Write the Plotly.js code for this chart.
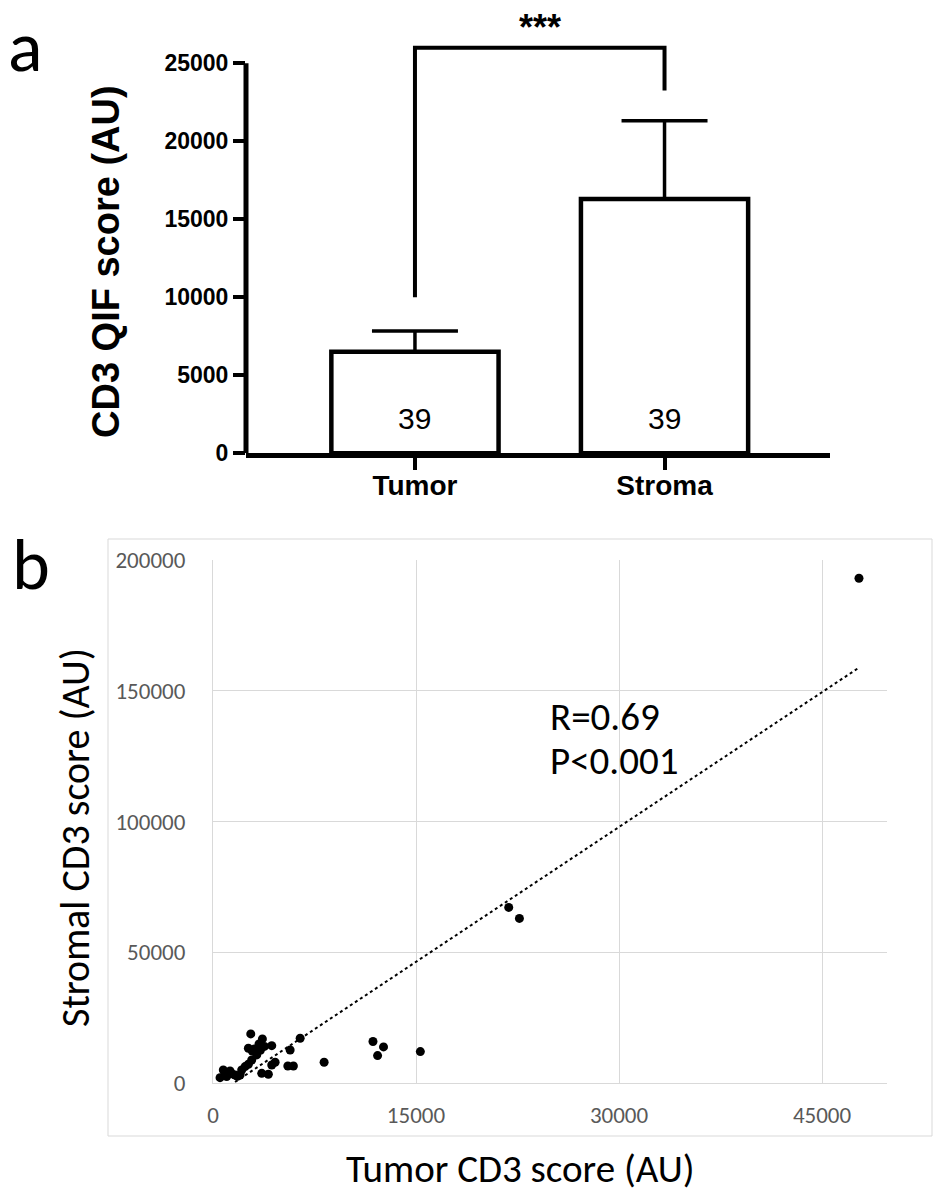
<!DOCTYPE html>
<html>
<head>
<meta charset="utf-8">
<script src="https://cdn.plot.ly/plotly-3.0.1.min.js"></script>
<style>
html,body{margin:0;padding:0;background:#ffffff;}
#chart{width:934px;height:1194px;}
</style>
</head>
<body>
<div id="chart"></div>
<script>
// ---------- Panel a data ----------
const barCategories = ['Tumor', 'Stroma'];
const barMeans = [6510, 16300];
const barErrorUpper = [1330, 5020];
const barCounts = ['39', '39'];
const bracketX = ['Tumor', 'Tumor', 'Stroma', 'Stroma'];
const bracketY = [10000, 26000, 26000, 23250];
const bracketLabel = '***';
const barYTicks = [0, 5000, 10000, 15000, 20000, 25000];
const barYTitle = 'CD3 QIF score (AU)';

// ---------- Panel b data ----------
const tumorScores = [47730, 21850, 22640, 15320, 12160, 12600, 11820, 8210, 6440, 5700,
                     5530, 5940, 4590, 4340, 4340, 3600, 4090, 2790, 3650, 3400,
                     2614, 3060, 3500, 3230, 2860, 2614, 2370, 760, 1260, 1630,
                     520, 1010, 2000, 2120, 3800, 2900, 1400, 900, 1800];
const stromaScores = [193000, 67160, 62950, 12000, 10470, 13790, 15860, 7920, 17120, 12640,
                      6510, 6510, 7920, 6900, 14290, 3700, 3330, 18770, 16860, 14940,
                      13290, 13030, 12500, 10730, 8810, 7160, 6280, 4980, 4600, 3070,
                      2030, 2450, 3070, 4980, 14000, 12200, 3500, 3800, 2600];
const scatterXTicks = [0, 15000, 30000, 45000];
const scatterYTicks = [0, 50000, 100000, 150000, 200000];
const scatterXTitle = 'Tumor CD3 score (AU)';
const scatterYTitle = 'Stromal CD3 score (AU)';
const statsLines = ['R=0.69', 'P&lt;0.001'];

// least-squares trendline computed from the data
function linFit(xs, ys) {
  const n = xs.length;
  const mx = xs.reduce((a, b) => a + b, 0) / n;
  const my = ys.reduce((a, b) => a + b, 0) / n;
  let sxy = 0, sxx = 0;
  for (let i = 0; i < n; i++) { sxy += (xs[i] - mx) * (ys[i] - my); sxx += (xs[i] - mx) ** 2; }
  const m = sxy / sxx;
  return { m: m, b: my - m * mx };
}
const fit = linFit(tumorScores, stromaScores);
const trendX = [Math.min(...tumorScores), Math.max(...tumorScores)];
const trendY = trendX.map(v => fit.m * v + fit.b);

const W = 934, H = 1194;
const px = v => v / W;
const py = v => 1 - v / H;

const calibri = 'Carlito, Calibri, Lato, "Open Sans", sans-serif';
const arial = '"Liberation Sans", Arial, Helvetica, sans-serif';

const traces = [
  {
    type: 'bar', x: barCategories, y: barMeans, width: 0.67,
    xaxis: 'x', yaxis: 'y',
    marker: { color: '#ffffff', line: { color: '#000000', width: 4.5 } },
    error_y: { type: 'data', symmetric: false, array: barErrorUpper, arrayminus: [0, 0],
               color: '#000000', thickness: 3.5, width: 43 },
    hoverinfo: 'skip', showlegend: false
  },
  {
    type: 'scatter', mode: 'lines', x: bracketX, y: bracketY,
    xaxis: 'x', yaxis: 'y',
    line: { color: '#000000', width: 4 }, hoverinfo: 'skip', showlegend: false
  },
  {
    type: 'scatter', mode: 'lines', x: trendX, y: trendY,
    xaxis: 'x2', yaxis: 'y2',
    line: { color: '#000000', width: 2, dash: 'dot' }, hoverinfo: 'skip', showlegend: false
  },
  {
    type: 'scatter', mode: 'markers', x: tumorScores, y: stromaScores,
    xaxis: 'x2', yaxis: 'y2',
    marker: { color: '#000000', size: 9 }, showlegend: false
  }
];

const layout = {
  width: W, height: H,
  margin: { l: 0, r: 0, t: 0, b: 0 },
  paper_bgcolor: '#ffffff', plot_bgcolor: 'rgba(0,0,0,0)',
  showlegend: false,
  xaxis: {
    domain: [px(246), px(830)], anchor: 'y',
    type: 'category', range: [-0.677, 1.663],
    showgrid: false, zeroline: false,
    showline: true, linecolor: '#000000', linewidth: 5,
    ticks: 'outside', ticklen: 12, tickwidth: 4, tickcolor: '#000000',
    ticklabelstandoff: -9,
    tickfont: { family: arial, size: 28, color: '#000000', weight: 'bold' },
    fixedrange: true
  },
  yaxis: {
    domain: [py(453.3), py(24.3)], anchor: 'x',
    range: [0, 27500],
    tickvals: barYTicks, tickformat: 'd',
    showgrid: false, zeroline: false, showline: false,
    ticks: 'outside', ticklen: 12, tickwidth: 4, tickcolor: '#000000',
    tickfont: { family: arial, size: 23, color: '#000000', weight: 'bold' },
    fixedrange: true
  },
  xaxis2: {
    domain: [px(213), px(887)], anchor: 'y2',
    range: [0, 49800], tickvals: scatterXTicks, tickformat: 'd',
    showgrid: true, gridcolor: '#d9d9d9', gridwidth: 1,
    zeroline: false, showline: true, linecolor: '#d9d9d9', linewidth: 1,
    ticks: '', ticklabelstandoff: 11,
    tickfont: { family: calibri, size: 23, color: '#595959' },
    fixedrange: true
  },
  yaxis2: {
    domain: [py(1083), py(560)], anchor: 'x2',
    range: [0, 200000], tickvals: scatterYTicks, tickformat: 'd',
    showgrid: true, gridcolor: '#d9d9d9', gridwidth: 1,
    zeroline: false, showline: true, linecolor: '#d9d9d9', linewidth: 1,
    ticks: '', ticklabelstandoff: 22,
    tickfont: { family: calibri, size: 23, color: '#595959' },
    fixedrange: true
  },
  shapes: [
    { type: 'line', xref: 'x domain', yref: 'y', x0: 0, x1: 0, y0: 0, y1: barYTicks[barYTicks.length - 1],
      line: { color: '#000000', width: 5 } },
    { type: 'rect', xref: 'paper', yref: 'paper', x0: px(108), x1: px(932), y0: py(1136), y1: py(539),
      line: { color: '#d9d9d9', width: 1 }, fillcolor: 'rgba(0,0,0,0)', layer: 'below' }
  ],
  annotations: [
    { text: 'a', xref: 'paper', yref: 'paper', x: px(25), y: py(46), xanchor: 'center', yanchor: 'middle',
      showarrow: false, font: { family: calibri, size: 72, color: '#000000' } },
    { text: 'b', xref: 'paper', yref: 'paper', x: px(31), y: py(564), xanchor: 'center', yanchor: 'middle',
      showarrow: false, font: { family: calibri, size: 72, color: '#000000' } },
    { text: bracketLabel, xref: 'x', yref: 'paper', x: 0.5, y: py(27), xanchor: 'center', yanchor: 'middle',
      showarrow: false, font: { family: arial, size: 36, color: '#000000', weight: 'bold' } },
    { text: barCounts[0], xref: 'x', yref: 'y', x: barCategories[0], y: 2200, xanchor: 'center', yanchor: 'middle',
      showarrow: false, font: { family: arial, size: 30, color: '#000000' } },
    { text: barCounts[1], xref: 'x', yref: 'y', x: barCategories[1], y: 2200, xanchor: 'center', yanchor: 'middle',
      showarrow: false, font: { family: arial, size: 30, color: '#000000' } },
    { text: barYTitle, xref: 'paper', yref: 'paper', x: px(106), y: py(262), xanchor: 'center', yanchor: 'middle',
      textangle: -90, showarrow: false, font: { family: arial, size: 38, color: '#000000', weight: 'bold' } },
    { text: scatterXTitle, xref: 'paper', yref: 'paper', x: px(520), y: py(1168), xanchor: 'center', yanchor: 'middle',
      showarrow: false, font: { family: calibri, size: 39, color: '#000000' } },
    { text: scatterYTitle, xref: 'paper', yref: 'paper', x: px(75), y: py(838), xanchor: 'center', yanchor: 'middle',
      textangle: -90, showarrow: false, font: { family: calibri, size: 40, color: '#000000' } },
    { text: statsLines[0], xref: 'paper', yref: 'paper', x: px(548), y: py(716), xanchor: 'left', yanchor: 'middle',
      showarrow: false, font: { family: calibri, size: 39, color: '#000000' } },
    { text: statsLines[1], xref: 'paper', yref: 'paper', x: px(548), y: py(760), xanchor: 'left', yanchor: 'middle',
      showarrow: false, font: { family: calibri, size: 39, color: '#000000' } }
  ]
};

Plotly.newPlot('chart', traces, layout, { displayModeBar: false, staticPlot: true });
</script>
</body>
</html>
